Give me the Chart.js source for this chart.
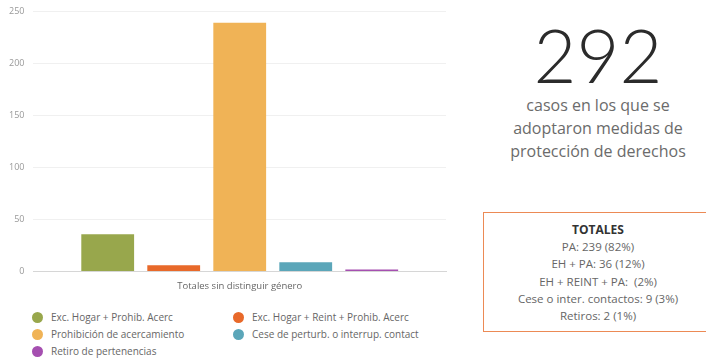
<!DOCTYPE html>
<html>
<head>
<meta charset="utf-8">
<script src="https://cdn.jsdelivr.net/npm/chart.js@4"></script>
<style>
  body{margin:0;width:706px;height:362px;background:#fff;overflow:hidden;position:relative;font-family:"Open Sans",Lato,sans-serif;}
  #chartBox{position:absolute;left:0;top:-3px;width:460px;height:296px;}
  #legend{position:absolute;left:32px;top:310px;width:440px;display:grid;grid-template-columns:201px 220px;row-gap:3px;font-size:10px;color:#666;}
  #legend div{display:flex;align-items:center;height:14px;white-space:nowrap;}
  #legend span.dot{width:11px;height:11px;border-radius:50%;margin-right:8px;display:inline-block;}
  #big{position:absolute;left:490px;width:216px;top:5px;text-align:center;font-size:74px;font-weight:300;color:#2b2b2b;line-height:100px;font-family:Lato,"Open Sans",sans-serif;}
  #sub{position:absolute;left:490px;width:216px;top:94px;text-align:center;font-size:16px;color:#6b6b6b;line-height:23px;}
  #tot{position:absolute;left:483px;top:212px;width:240px;height:120px;border:1.5px solid #ec8a55;box-sizing:border-box;}
  #tot div.in{position:absolute;left:0;width:228px;top:8px;text-align:center;font-size:11.5px;color:#666;line-height:17.2px;white-space:pre;}
  #tot b{color:#333;font-size:12px;}
</style>
</head>
<body>
<div id="chartBox"><canvas id="chart"></canvas></div>
<div id="legend"></div>
<div id="big">292</div>
<div id="sub">casos en los que se<br>adoptaron medidas de<br>protección de derechos</div>
<div id="tot"><div class="in" id="totText"></div></div>
<script>
// --- Data ---
const categories = ["Totales sin distinguir género"];
const seriesNames = ["Exc. Hogar + Prohib. Acerc","Exc. Hogar + Reint + Prohib. Acerc","Prohibición de acercamiento","Cese de perturb. o interrup. contact","Retiro de pertenencias"];
const seriesValues = [36, 6, 239, 9, 2];
const seriesColors = ["#98a74c","#e8692a","#f0b356","#5ba6b9","#a54fb0"];
const yTicks = [0, 50, 100, 150, 200, 250];
const totalCases = 292;
const totalsLines = ["PA: 239 (82%)","EH + PA: 36 (12%)","EH + REINT + PA:  (2%)","Cese o inter. contactos: 9 (3%)","Retiros: 2 (1%)"];

// --- Chart ---
const chart = new Chart(document.getElementById('chart'),{
  type:'bar',
  data:{
    labels:categories,
    datasets:seriesNames.map((n,i)=>({label:n,data:[seriesValues[i]],backgroundColor:seriesColors[i],barPercentage:0.8,categoryPercentage:0.8}))
  },
  options:{
    responsive:true, maintainAspectRatio:false, animation:false,
    layout:{padding:{left:0,right:14,top:2,bottom:0}},
    plugins:{legend:{display:false},tooltip:{enabled:false}},
    scales:{
      x:{
        grid:{display:false},
        border:{color:'#d6d6d6'},
        ticks:{color:'#666',font:{family:'"Open Sans"',size:9.5},padding:1}
      },
      y:{
        min:0,max:250,
        afterBuildTicks:ax=>{ax.ticks=yTicks.map(v=>({value:v}));},
        grid:{color:'#f0f0f0',drawTicks:false},
        border:{display:false},
        ticks:{color:'#999',font:{family:'"Open Sans"',size:9},padding:9}
      }
    }
  }
});

// --- HTML legend (two columns) ---
const lg = document.getElementById('legend');
chart.data.datasets.forEach(ds=>{
  const d=document.createElement('div');
  d.innerHTML=`<span class="dot" style="background:${ds.backgroundColor}"></span>${ds.label}`;
  lg.appendChild(d);
});

document.getElementById('big').textContent = totalCases;
document.getElementById('totText').innerHTML = '<b>TOTALES</b>\n' + totalsLines.join('\n');
</script>
</body>
</html>
